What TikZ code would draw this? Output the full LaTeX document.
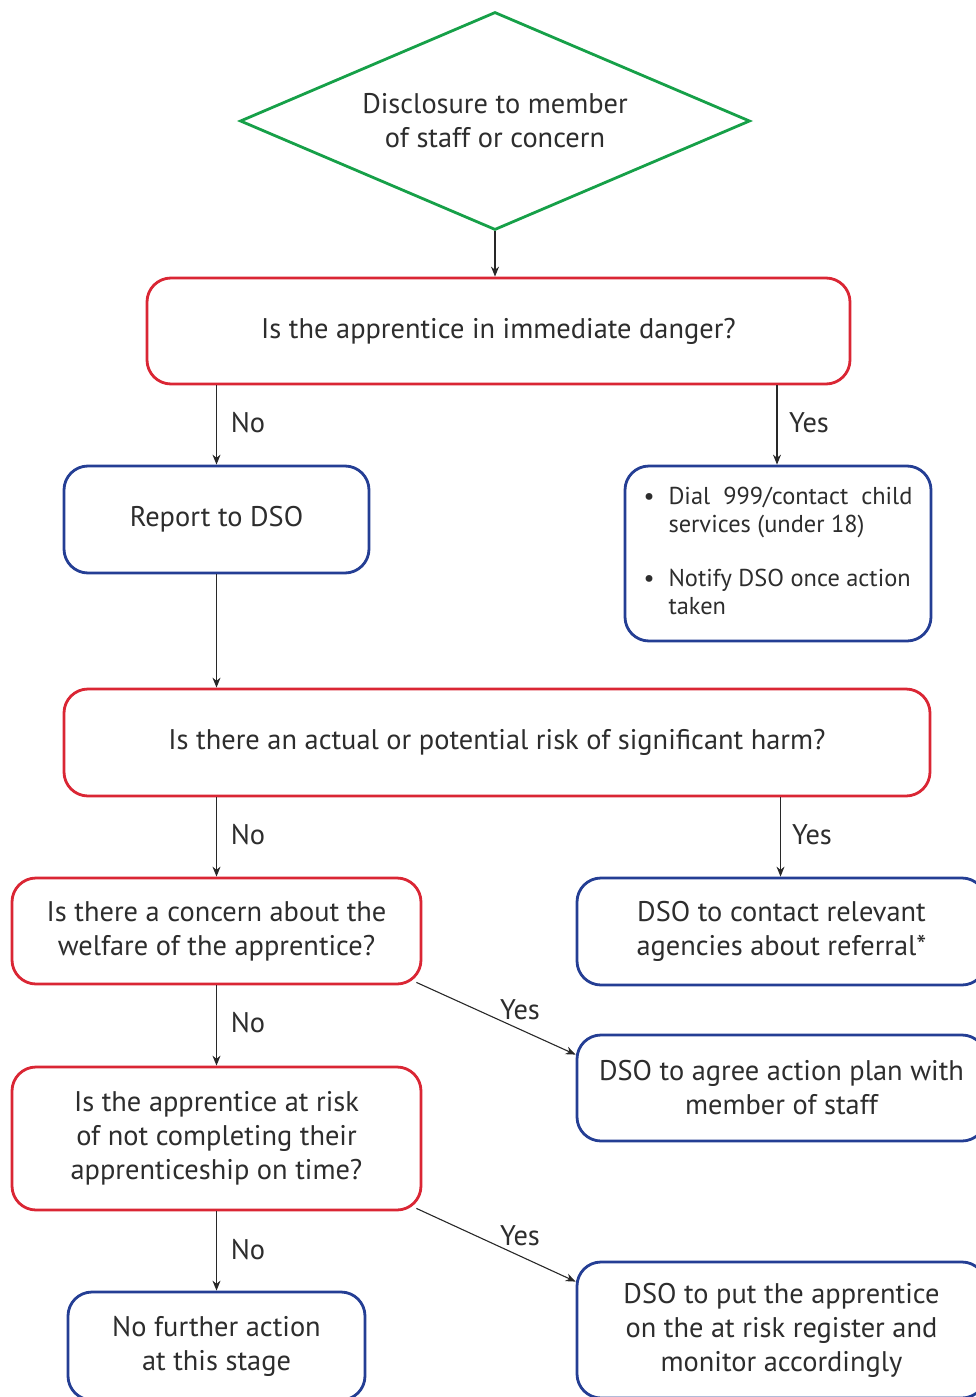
\documentclass[tikz,border=0pt]{standalone}
\usepackage{fontspec}
\setmainfont{PT Sans}
\usetikzlibrary{shapes.geometric,arrows.meta}
\definecolor{boxred}{RGB}{218,38,52}
\definecolor{boxblue}{RGB}{36,62,148}
\definecolor{boxgreen}{RGB}{22,160,72}
\definecolor{txt}{RGB}{45,45,45}
\definecolor{arr}{RGB}{40,40,40}
\tikzset{
  base/.style={line width=2.8pt, rounded corners=24pt, fill=white, align=center, inner sep=0pt, text=txt,
    font=\fontsize{28.4}{34}\selectfont},
  redbox/.style={base, draw=boxred},
  bluebox/.style={base, draw=boxblue},
  conn/.style={-{Stealth[length=10pt,width=8pt]}, line width=1.1pt, draw=arr},
  lbl/.style={text=txt, font=\fontsize{28.4}{30}\selectfont, inner sep=0pt}
}
\begin{document}
\begin{tikzpicture}[x=1pt,y=-1pt]
\useasboundingbox (0,0) rectangle (976,1397);
\clip (0,0) rectangle (976,1397);
\node[diamond, draw=boxgreen, line width=2.8pt, shape aspect=2.34, minimum width=510pt, minimum height=218pt, inner sep=0pt,
  align=center, text=txt, font=\fontsize{28.4}{34}\selectfont] (start) at (495,121) {Disclosure to member\\of staff or concern};
\node[redbox, minimum width=703pt, minimum height=106pt] (q1) at (498.5,331) {Is the apprentice in immediate danger?};
\node[bluebox, minimum width=305pt, minimum height=107pt] (report) at (216.5,519.5) {Report to DSO};
\node[bluebox, minimum width=306pt, minimum height=175pt, font=\fontsize{24.4}{28}\selectfont] (dial) at (778,553.5) {%
  \begin{tabular}{@{}l@{\hspace{14pt}}l@{}}
  \textbullet & Dial\ \ 999/contact\ \ child\\
  & services (under 18)\\[26pt]
  \textbullet & Notify DSO once action\\
  & taken
  \end{tabular}};
\node[redbox, minimum width=866pt, minimum height=107pt] (q2) at (497,742.5) {Is there an actual or potential risk of significant harm?};
\node[redbox, minimum width=409pt, minimum height=106pt] (concern) at (216.5,931) {Is there a concern about the\\welfare of the apprentice?};
\node[bluebox, minimum width=409pt, minimum height=107pt] (contact) at (781.5,931.5) {DSO to contact relevant\\agencies about referral*};
\node[bluebox, minimum width=409pt, minimum height=106pt] (agree) at (781.5,1088) {DSO to agree action plan with\\member of staff};
\node[redbox, minimum width=409pt, minimum height=143pt] (atrisk) at (216.5,1138.5) {Is the apprentice at risk\\of not completing their\\apprenticeship on time?};
\node[bluebox, minimum width=297pt, minimum height=108pt] (nofurther) at (216.5,1346) {No further action\\at this stage};
\node[bluebox, minimum width=409pt, minimum height=136pt] (put) at (781.5,1330) {DSO to put the apprentice\\on the at risk register and\\monitor accordingly};

\draw[conn] (start.south) -- (start.south |- q1.north);
\draw[conn] (report.north |- q1.south) -- (report.north);
\draw[conn] ([xshift=-1pt]dial.north |- q1.south) -- ([xshift=-1pt]dial.north);
\draw[conn] (report.south) -- (report.south |- q2.north);
\draw[conn] (concern.north |- q2.south) -- (concern.north);
\draw[conn] ([xshift=-1pt]contact.north |- q2.south) -- ([xshift=-1pt]contact.north);
\draw[conn] (concern.south) -- (atrisk.north);
\draw[conn] ([shift={(-6,-3)}]concern.south east) -- ([shift={(0,21)}]agree.north west);
\draw[conn] (atrisk.south) -- (nofurther.north);
\draw[conn] ([shift={(-6,-3)}]atrisk.south east) -- ([shift={(0,21)}]put.north west);

\node[lbl] (l1) at (248,423) {No};
\node[lbl] (l2) at (809,423) {Yes};
\node[lbl] (l3) at (248,835) {No};
\node[lbl] (l4) at (812,835) {Yes};
\node[lbl] (l5) at (248,1023) {No};
\node[lbl] (l6) at (520,1010) {Yes};
\node[lbl] (l7) at (248,1250) {No};
\node[lbl] (l8) at (520,1236) {Yes};
\end{tikzpicture}
\end{document}
